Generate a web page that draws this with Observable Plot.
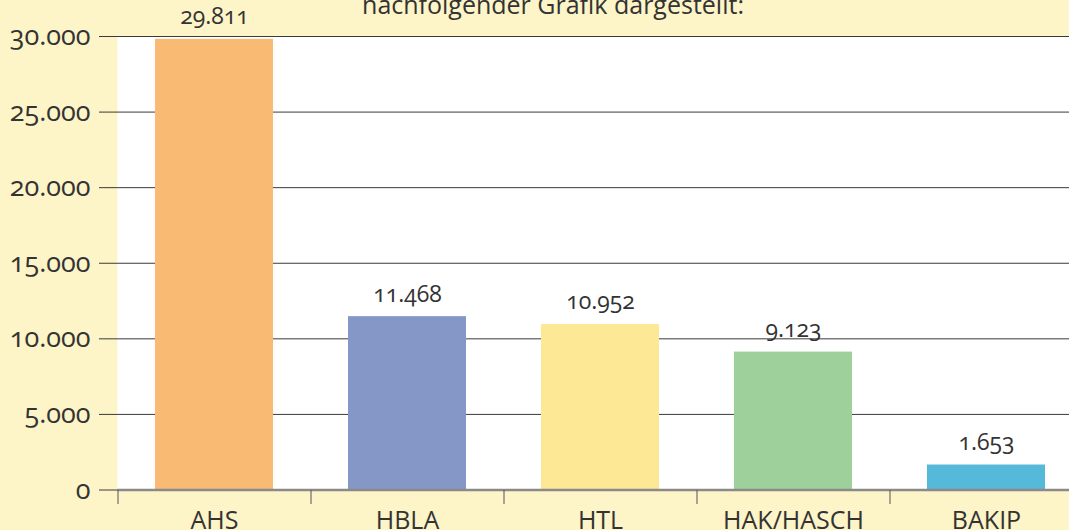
<!DOCTYPE html>
<html>
<head>
<meta charset="utf-8">
<script src="https://cdn.jsdelivr.net/npm/d3@7"></script>
<script src="https://cdn.jsdelivr.net/npm/@observablehq/plot@0.6"></script>
<style>
  html, body { margin: 0; padding: 0; background: #fdf4c7; overflow: hidden; }
  body { width: 1069px; height: 530px; position: relative; font-family: "Open Sans", "Noto Sans", sans-serif; font-variant-numeric: oldstyle-nums; }
  #title { position: absolute; left: 0; width: 1106px; text-align: center; top: -11px; font-size: 25px; line-height: 30px; color: #333; white-space: nowrap; z-index: 2; }
  #chart { position: absolute; left: 0; top: 0; }
  svg text { font-variant-numeric: oldstyle-nums; }
</style>
</head>
<body>
<div id="title">nachfolgender Grafik dargestellt:</div>
<div id="chart"></div>
<script>
const categories = ["AHS", "HBLA", "HTL", "HAK/HASCH", "BAKIP"];
const values = [29811, 11468, 10952, 9123, 1653];
const colors = ["#f9ba74", "#8497c7", "#fde995", "#9dd09b", "#55b9d9"];
const yTicks = [0, 5000, 10000, 15000, 20000, 25000, 30000];

const de = d3.formatLocale({decimal: ",", thousands: ".", grouping: [3], currency: ["", " €"]});
const fmt = de.format(",");

const data = categories.map((c, i) => ({cat: c, value: values[i], color: colors[i]}));

const chart = Plot.plot({
  width: 1069,
  height: 530,
  marginLeft: 117,
  marginRight: 0,
  marginTop: 36,
  marginBottom: 40,
  style: {background: "transparent", fontFamily: "'Open Sans', 'Noto Sans', sans-serif", fontSize: "22px", color: "#333", overflow: "hidden"},
  x: {domain: categories, range: [117, 1082], paddingInner: 0.39, paddingOuter: 0.195, align: 0.5},
  y: {domain: [0, 30000], range: [489.5, 36]},
  marks: [
    Plot.frame({fill: "white", stroke: null}),
    Plot.ruleY(yTicks.filter(d => d > 0), {stroke: "#3a3a3a", strokeWidth: 1, strokeOpacity: 1}),
    Plot.axisY({ticks: yTicks, tickSize: 18, tickPadding: 9, tickFormat: fmt, stroke: "#3a3a3a", strokeOpacity: 1, fill: "#333", fontSize: 27, fontVariant: "oldstyle-nums", label: null}),
    Plot.barY(data, {x: "cat", y: "value", fill: "color"}),
    Plot.ruleY([0], {stroke: "#8a8a8a", strokeWidth: 2.5}),
    Plot.text(data, {x: "cat", y: "value", text: d => fmt(d.value), lineAnchor: "bottom", dy: -15, fill: "#333", fontSize: 23, fontVariant: "oldstyle-nums"}),
    Plot.axisX({tickSize: 14, dx: -96.5, tickFormat: () => "", stroke: "#555", strokeOpacity: 1, label: null}),
    Plot.axisX({tickSize: 0, tickPadding: 21, fill: "#333", fontSize: 25, label: null})
  ]
});
document.getElementById("chart").appendChild(chart);
</script>
</body>
</html>
